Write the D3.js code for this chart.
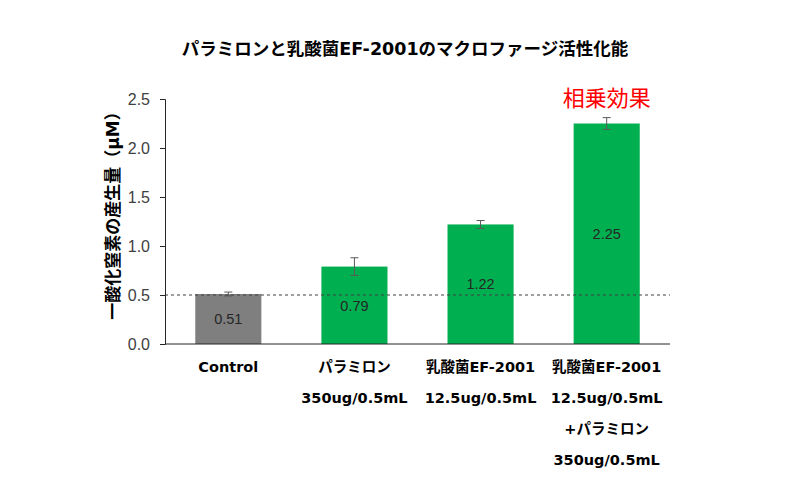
<!DOCTYPE html>
<html>
<head>
<meta charset="utf-8">
<script src="https://cdn.jsdelivr.net/npm/d3@7"></script>
<style>
  body { margin: 0; background: #fff; }
  text { font-family: "DejaVu Sans", "Noto Sans CJK JP", sans-serif; }
  .num { font-family: "Liberation Sans", Arial, sans-serif; }
</style>
</head>
<body>
<div id="chart"></div>
<script>
// groups along the x axis, each label split into lines
const groups = ['control', 'paramylon', 'ef2001', 'combo'];
const groupLabels = [
  ['Control'],
  ['パラミロン', '350ug/0.5mL'],
  ['乳酸菌EF-2001', '12.5ug/0.5mL'],
  ['乳酸菌EF-2001', '12.5ug/0.5mL', '+パラミロン', '350ug/0.5mL']
];
const values = [0.51, 0.79, 1.22, 2.25];
const errors = [0.02, 0.09, 0.04, 0.06];
const barColors = ['#7f7f7f', '#00b050', '#00b050', '#00b050'];
const yTicks = [0, 0.5, 1.0, 1.5, 2.0, 2.5];
const baseline = 0.5;

const width = 786, height = 482;
const margin = {top: 99, right: 116, bottom: 138, left: 165};

const svg = d3.select('#chart').append('svg')
  .attr('width', width)
  .attr('height', height);

const x = d3.scaleBand()
  .domain(groups)
  .range([margin.left, width - margin.right])
  .paddingInner(0.476)
  .paddingOuter(0.24);

const y = d3.scaleLinear()
  .domain([0, 2.5])
  .range([height - margin.bottom, margin.top]);

// title
svg.append('text')
  .attr('x', 405).attr('y', 55)
  .attr('text-anchor', 'middle')
  .attr('font-size', 17.5).attr('font-weight', 'bold')
  .attr('fill', '#000')
  .text('パラミロンと乳酸菌EF-2001のマクロファージ活性化能');

// bars
svg.selectAll('rect.bar')
  .data(values)
  .join('rect')
  .attr('class', 'bar')
  .attr('x', (d, i) => x(groups[i]))
  .attr('y', d => y(d))
  .attr('width', x.bandwidth())
  .attr('height', d => y(0) - y(d))
  .attr('fill', (d, i) => barColors[i]);

// error bars
const eb = svg.selectAll('g.err')
  .data(values)
  .join('g')
  .attr('class', 'err')
  .attr('stroke', '#595959')
  .attr('stroke-width', 1);
eb.append('line')
  .attr('x1', (d, i) => x(groups[i]) + x.bandwidth() / 2)
  .attr('x2', (d, i) => x(groups[i]) + x.bandwidth() / 2)
  .attr('y1', (d, i) => y(d - errors[i]))
  .attr('y2', (d, i) => y(d + errors[i]));
[-1, 1].forEach(s => {
  eb.append('line')
    .attr('x1', (d, i) => x(groups[i]) + x.bandwidth() / 2 - 4)
    .attr('x2', (d, i) => x(groups[i]) + x.bandwidth() / 2 + 4)
    .attr('y1', (d, i) => y(d + s * errors[i]))
    .attr('y2', (d, i) => y(d + s * errors[i]));
});

// value labels in the middle of each bar
svg.selectAll('text.val')
  .data(values)
  .join('text')
  .attr('class', 'val num')
  .attr('x', (d, i) => x(groups[i]) + x.bandwidth() / 2)
  .attr('y', d => (y(d) + y(0)) / 2)
  .attr('dy', '0.36em')
  .attr('text-anchor', 'middle')
  .attr('font-size', 14.5)
  .attr('fill', '#262626')
  .text(d => d.toFixed(2));

// dashed control line
svg.append('line')
  .attr('x1', margin.left).attr('x2', width - margin.right)
  .attr('y1', y(baseline)).attr('y2', y(baseline))
  .attr('stroke', '#404040')
  .attr('stroke-width', 1.2)
  .attr('stroke-dasharray', '3,3');

// y axis
const yAxis = svg.append('g')
  .attr('transform', `translate(${margin.left},0)`)
  .call(d3.axisLeft(y).tickValues(yTicks).tickFormat(d3.format('.1f')).tickSizeOuter(0).tickSize(5).tickPadding(10));
yAxis.select('.domain').attr('stroke', '#262626');
yAxis.selectAll('.tick line').attr('stroke', '#262626');
yAxis.selectAll('.tick text')
  .attr('class', 'num')
  .attr('font-size', 16)
  .attr('fill', '#404040');

// x baseline
svg.append('line')
  .attr('x1', margin.left).attr('x2', width - margin.right)
  .attr('y1', y(0)).attr('y2', y(0))
  .attr('stroke', '#262626');

// x labels, multi-line
svg.selectAll('text.xl')
  .data(groupLabels)
  .join('text')
  .attr('class', 'xl')
  .attr('text-anchor', 'middle')
  .attr('font-size', 14.5).attr('font-weight', 'bold')
  .attr('fill', '#000')
  .each(function(lines, i) {
    d3.select(this).selectAll('tspan')
      .data(lines)
      .join('tspan')
      .attr('x', x(groups[i]) + x.bandwidth() / 2)
      .attr('y', (l, j) => 372 + j * 31)
      .text(l => l);
  });

// y axis title
svg.append('text')
  .attr('transform', `translate(119,${(y(0) + y(2.5)) / 2 - 10}) rotate(-90)`)
  .attr('text-anchor', 'middle')
  .attr('font-size', 17).attr('font-weight', 'bold')
  .attr('fill', '#000')
  .text('一酸化窒素の産生量（μM）');

// synergy annotation
svg.append('text')
  .attr('x', x('combo') + x.bandwidth() / 2).attr('y', 106)
  .attr('text-anchor', 'middle')
  .attr('font-size', 22)
  .attr('fill', '#ff0000')
  .text('相乗効果');
</script>
</body>
</html>
